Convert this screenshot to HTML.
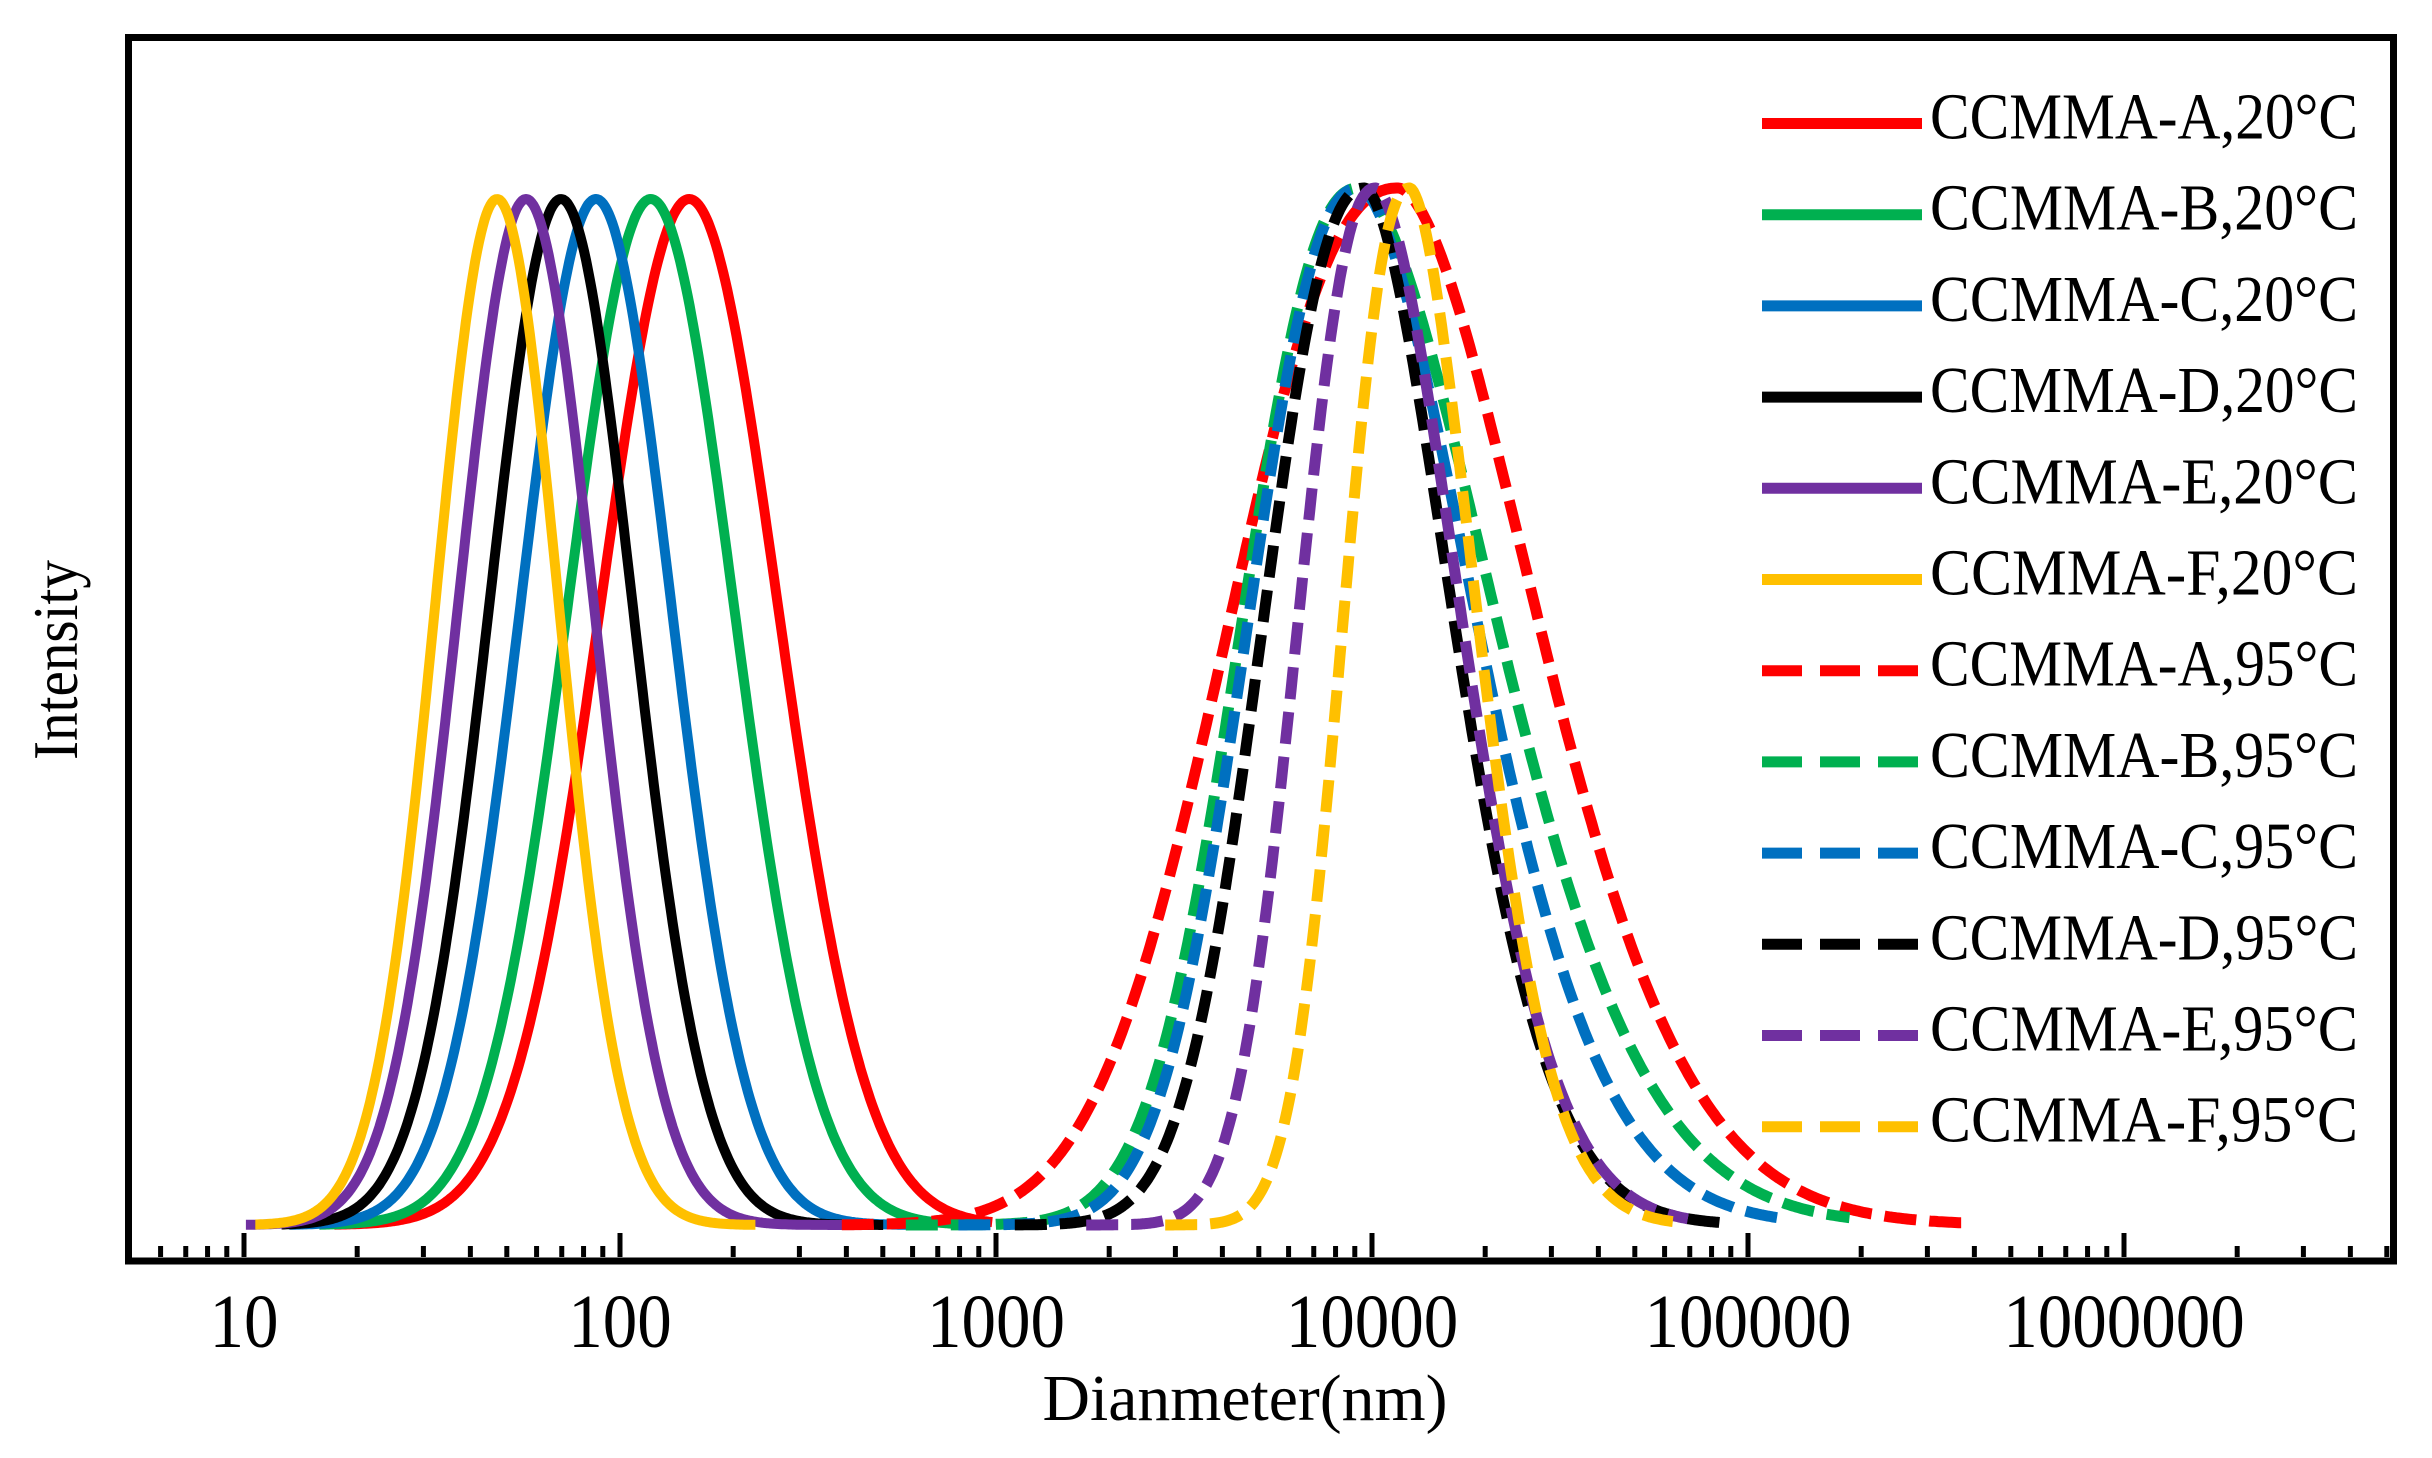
<!DOCTYPE html>
<html><head><meta charset="utf-8"><style>html,body{margin:0;padding:0;background:#fff}svg{display:block}</style></head>
<body>
<svg id="s" xmlns="http://www.w3.org/2000/svg" width="2432" height="1458" viewBox="0 0 2432 1458" font-family="'Liberation Serif', serif">
<rect width="2432" height="1458" fill="#fff"/>
<g id="curves" fill="none" stroke-width="10" stroke-linejoin="round"></g>
<rect x="128.5" y="37.5" width="2265" height="1223.5" fill="none" stroke="#000" stroke-width="7"/>
<g id="ticks" stroke="#000" stroke-width="5"></g>
<g id="labels" font-size="76" text-anchor="middle" fill="#000"></g>
<text x="1245" y="1420" font-size="66" text-anchor="middle" textLength="405" lengthAdjust="spacingAndGlyphs">Dianmeter(nm)</text>
<text transform="translate(77,660) rotate(-90)" font-size="64" text-anchor="middle" textLength="200" lengthAdjust="spacingAndGlyphs">Intensity</text>
<g id="legend" font-size="66"></g>
</svg>
<script>
const NS="http://www.w3.org/2000/svg";
const X=l=>244+376*(l-1);
const BASE=1225;
function el(t,a,p,txt){const e=document.createElementNS(NS,t);for(const k in a)e.setAttribute(k,a[k]);if(txt)e.textContent=txt;p.appendChild(e);return e;}
const cols={A:"#ff0000",B:"#00b050",C:"#0070c0",D:"#000000",E:"#7030a0",F:"#ffc000"};
const sol={A:[2.184,0.235,1.24,2.99],B:[2.082,0.22,1.2,2.98],C:[1.936,0.2,1.12,2.82],D:[1.843,0.19,1.1,2.7],E:[1.75,0.18,1.005,2.6],F:[1.673,0.164,1.03,2.36]};
const das={A:[4.07,0.50,0.43,2.59,5.585],B:[3.965,0.346,0.424,2.76,5.27],C:[3.965,0.328,0.362,2.9,5.11],D:[3.98,0.30,0.275,3.05,4.94],E:[4.01,0.23,0.265,3.24,4.84],F:[4.10,0.197,0.21,3.45,4.80]};
const cg=document.getElementById('curves');
for(const k of "ABCDEF"){const [p,s,a,b]=sol[k];let d="";
 for(let l=a;l<=b+1e-9;l+=0.005){const f=Math.exp(-0.5*((l-p)/s)**2);d+=(d?"L":"M")+X(l).toFixed(1)+","+(BASE-(BASE-199)*f).toFixed(1);}
 el('path',{d:d,stroke:cols[k]},cg);}
for(const k of "ABCDEF"){const [p,hl,hr,a,b]=das[k];let d="";
 for(let l=a;l<=b+1e-9;l+=0.005){const u=l-p;let f;
  if(u<0)f=Math.exp(-Math.LN2*Math.pow(-u/hl,2.3));else f=Math.exp(-Math.LN2*Math.pow(u/hr,1.75));
  d+=(d?"L":"M")+X(l).toFixed(1)+","+(BASE-(BASE-188)*f).toFixed(1);}
 el('path',{d:d,stroke:cols[k],"stroke-dasharray":"32 13","stroke-width":11},cg);}
const tg=document.getElementById('ticks');
for(let dec=0;dec<=6;dec++){for(let m=1;m<=9;m++){const l=dec+Math.log10(m);const x=X(l);if(x<133||x>2389)continue;
 const len=m==1?24:11;el('line',{x1:x,y1:1257,x2:x,y2:1257-len},tg);}}
const lg=document.getElementById('labels');
for(let dec=1;dec<=6;dec++){const s="1"+"0".repeat(dec);el('text',{x:X(dec),y:1347,textLength:34.5*s.length,lengthAdjust:"spacingAndGlyphs"},lg,s);}
const leg=document.getElementById('legend');
const items=[];for(const k of "ABCDEF")items.push([k,"20",false]);for(const k of "ABCDEF")items.push([k,"95",true]);
items.forEach((it,i)=>{const y=123.5+i*91.2;
 const ln=el('line',{x1:1762,y1:y,x2:1922,y2:y,stroke:cols[it[0]],"stroke-width":11},leg);
 if(it[2])ln.setAttribute("stroke-dasharray","40 18");
 el('text',{x:1930,y:y+15,textLength:428,lengthAdjust:"spacingAndGlyphs"},leg,"CCMMA-"+it[0]+","+it[1]+"°C");});
</script>
</body></html>
